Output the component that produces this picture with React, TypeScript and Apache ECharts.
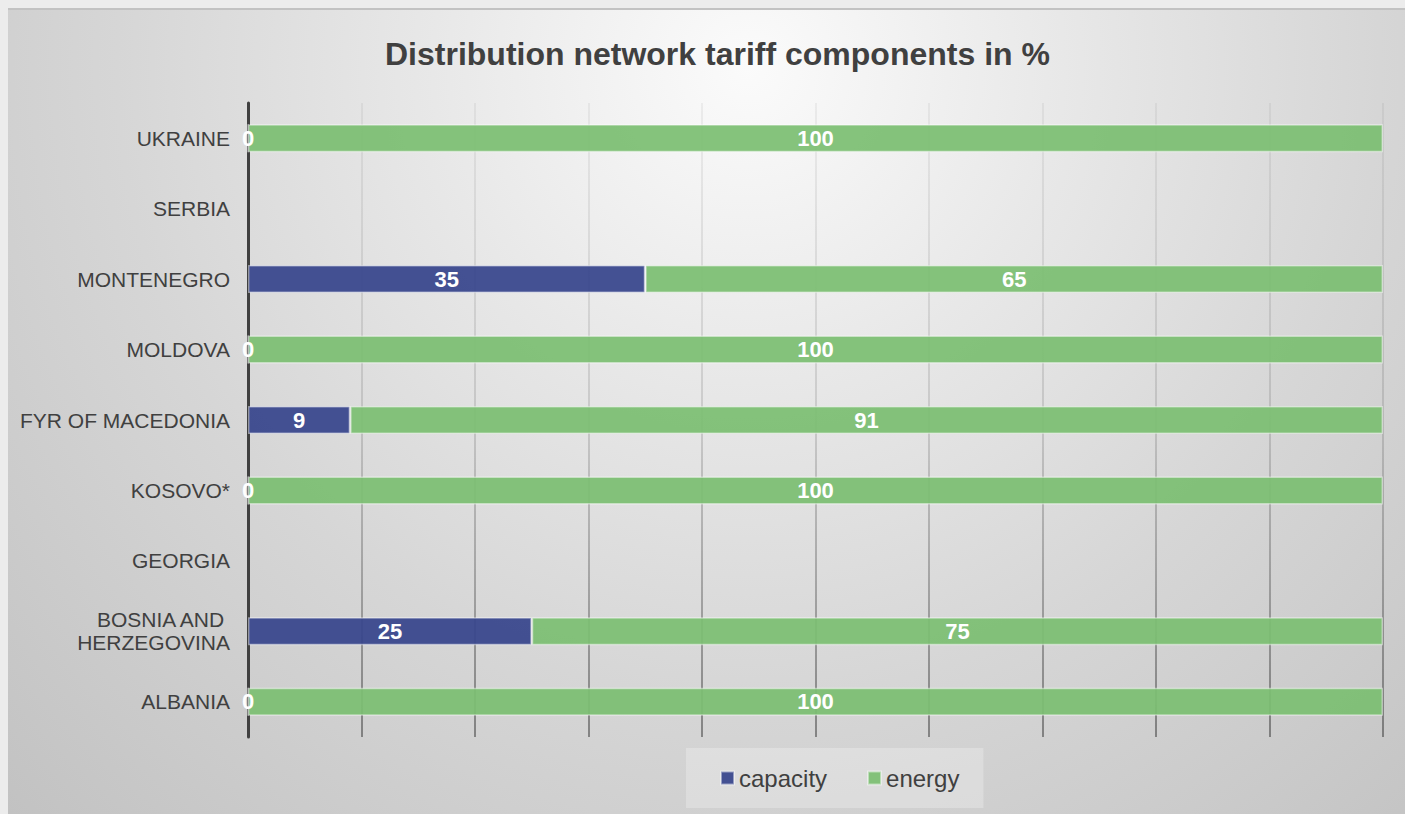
import React, { useEffect, useRef } from "react";
import * as echarts from "echarts";

const categories = [
  "ALBANIA",
  "BOSNIA AND \nHERZEGOVINA",
  "GEORGIA",
  "KOSOVO*",
  "FYR OF MACEDONIA",
  "MOLDOVA",
  "MONTENEGRO",
  "SERBIA",
  "UKRAINE",
];
const capacity = [0, 25, null, 0, 9, 0, 35, null, 0];
const energy = [100, 75, null, 100, 91, 100, 65, null, 100];

const FONT = "'Liberation Sans', Arial, sans-serif";
const TEXT = "#404040";

export default function App() {
  const ref = useRef<HTMLDivElement>(null);
  useEffect(() => {
    if (!ref.current) return;
    const chart = echarts.init(ref.current, undefined, { renderer: "svg" });
    const labelStyle = {
      show: true,
      position: "inside" as const,
      color: "#ffffff",
      fontFamily: FONT,
      fontWeight: "bold" as const,
      fontSize: 22,
    };
    const gridTop = 93;
    const gridHeight = 634;
    chart.setOption({
      animation: false,
      textStyle: { fontFamily: FONT },
      title: {
        text: "Distribution network tariff components in %",
        left: 372,
        top: 23,
        textStyle: { color: TEXT, fontSize: 32, fontWeight: "bold", fontFamily: FONT },
      },
      grid: { left: 240, top: gridTop, width: 1135, height: gridHeight },
      legend: {
        data: ["capacity", "energy"],
        left: 678,
        top: 738,
        icon: "rect",
        itemWidth: 13,
        itemHeight: 13,
        itemGap: 40,
        padding: [18, 24, 18, 34],
        backgroundColor: "rgba(255,255,255,0.25)",
        textStyle: { color: TEXT, fontSize: 24, fontFamily: FONT },
      },
      xAxis: {
        type: "value",
        min: 0,
        max: 100,
        interval: 10,
        axisLabel: { show: false },
        axisLine: { show: false },
        axisTick: { show: false },
        splitLine: {
          show: true,
          lineStyle: {
            width: 2,
            color: new echarts.graphic.LinearGradient(
              0,
              gridTop,
              0,
              gridTop + gridHeight,
              [
                { offset: 0, color: "rgba(0,0,0,0.05)" },
                { offset: 0.5, color: "rgba(0,0,0,0.12)" },
                { offset: 1, color: "rgba(0,0,0,0.38)" },
              ],
              true
            ),
          },
        },
      },
      yAxis: {
        type: "category",
        data: categories,
        axisLine: { show: true, lineStyle: { color: "#404040", width: 3 } },
        axisTick: { show: false },
        axisLabel: { color: TEXT, fontSize: 21, fontFamily: FONT, margin: 18, lineHeight: 23 },
      },
      series: [
        {
          name: "capacity",
          type: "bar",
          stack: "total",
          data: capacity,
          barWidth: 28,
          itemStyle: { color: "rgba(55,69,140,0.93)", borderColor: "rgba(255,255,255,0.45)", borderWidth: 1.5 },
          label: labelStyle,
        },
        {
          name: "energy",
          type: "bar",
          stack: "total",
          data: energy,
          barWidth: 28,
          itemStyle: { color: "rgba(124,190,114,0.93)", borderColor: "rgba(255,255,255,0.45)", borderWidth: 1.5 },
          label: labelStyle,
        },
      ],
    });
    return () => chart.dispose();
  }, []);
  return (
    <div style={{ position: "fixed", inset: 0, background: "#ececec", overflow: "hidden" }}>
      <div
        ref={ref}
        style={{
          position: "absolute",
          left: 8,
          top: 8,
          width: 1397,
          height: 806,
          boxSizing: "border-box",
          borderTop: "2px solid #c2c2c2",
          background:
            "radial-gradient(circle farthest-corner at 53% 7%, #fbfbfb 0%, #e8e8e8 30%, #d6d6d6 60%, #c2c2c2 100%)",
        }}
      />
    </div>
  );
}
